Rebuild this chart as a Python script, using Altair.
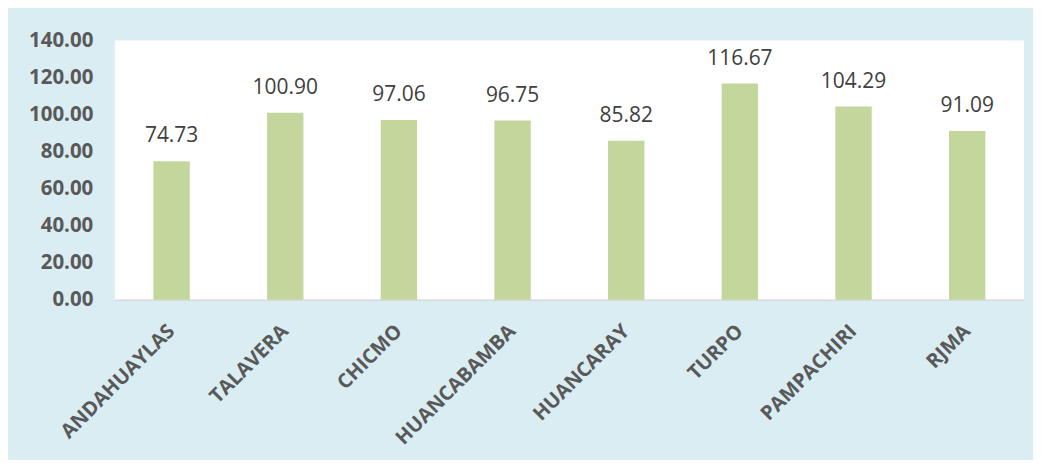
import altair as alt
import pandas as pd

categories = ["ANDAHUAYLAS", "TALAVERA", "CHICMO", "HUANCABAMBA", "HUANCARAY", "TURPO", "PAMPACHIRI", "RJMA"]
values = [74.73, 100.90, 97.06, 96.75, 85.82, 116.67, 104.29, 91.09]

df = pd.DataFrame({"cat": categories, "val": values})
df["label"] = df["val"].map(lambda v: f"{v:.2f}")

FONT = "Open Sans"

x = alt.X("cat:N", sort=categories, title=None,
          scale=alt.Scale(paddingInner=0.68, paddingOuter=0.34),
          axis=alt.Axis(labelAngle=-45, labelAlign="right", labelBaseline="middle",
                        labelFont=FONT, labelFontSize=20, labelFontWeight="bold",
                        labelColor="#595959", labelPadding=28, ticks=False,
                        domainColor="#D9D9D9", domainWidth=1.5, grid=False))
y = alt.Y("val:Q", title=None,
          scale=alt.Scale(domain=[0, 140], nice=False),
          axis=alt.Axis(values=[0, 20, 40, 60, 80, 100, 120, 140], format=".2f",
                        labelFont=FONT, labelFontSize=20.5, labelFontWeight="bold",
                        labelColor="#595959", labelPadding=22, ticks=False,
                        domain=False, grid=False))

bars = alt.Chart(df).mark_bar(color="#C3D69B").encode(x=x, y=y)
text = alt.Chart(df).mark_text(font=FONT, fontSize=21, color="#404040", dy=-25,
                               baseline="middle").encode(x=x, y=y, text="label:N")

chart = (bars + text).properties(
    width=911, height=260,
    background="#DAEDF3",
    padding={"left": 107, "top": 32, "right": 9, "bottom": 160},
    autosize=alt.AutoSizeParams(type="none"),
).configure_view(fill="white", stroke=None)

chart.save("out.html", embed_options={"renderer": "svg", "actions": False})
